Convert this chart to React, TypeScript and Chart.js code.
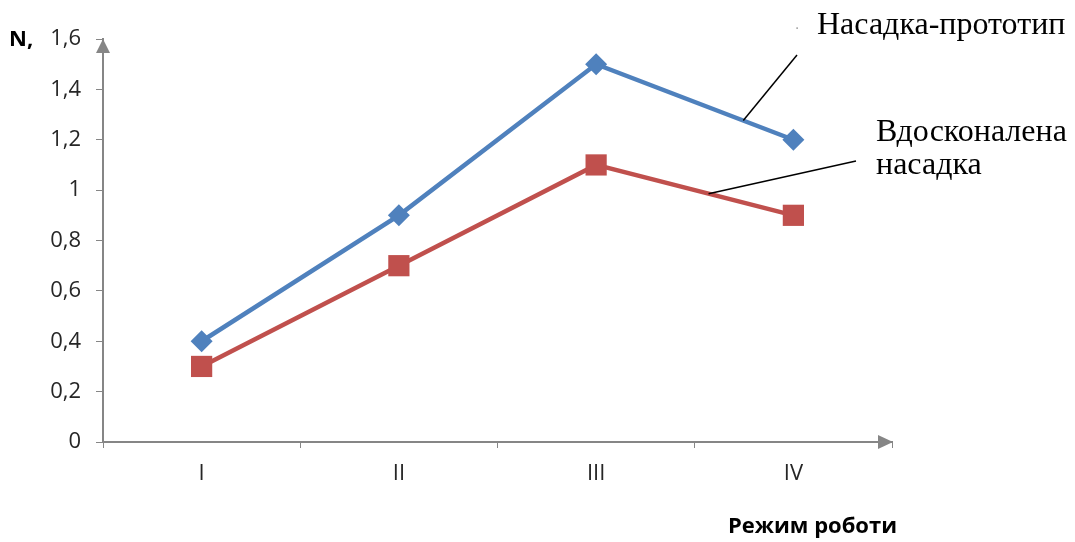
import React, { useEffect, useRef } from "react";
import { Chart, registerables } from "chart.js";

Chart.register(...registerables);

const categories = ["I", "II", "III", "IV"];
const prototypeValues = [0.4, 0.9, 1.5, 1.2];
const improvedValues = [0.3, 0.7, 1.1, 0.9];
const prototypeName = "Насадка-прототип";
const improvedNameLines = ["Вдосконалена", "насадка"];
const yAxisLabel = "N,";
const xAxisLabel = "Режим роботи";

const AXIS = "#868686";
const BLUE = "#4F81BD";
const RED = "#C0504D";
const TICK_FONT = '"Open Sans", "Liberation Sans", sans-serif';

const overlay = {
  id: "overlay",
  afterDraw(chart: any) {
    const ctx = chart.ctx as CanvasRenderingContext2D;
    const x = chart.scales.x;
    const y = chart.scales.y;
    const area = chart.chartArea;
    ctx.save();
    // arrows
    ctx.fillStyle = AXIS;
    ctx.beginPath();
    ctx.moveTo(area.left, area.top);
    ctx.lineTo(area.left - 7, area.top + 14);
    ctx.lineTo(area.left + 7, area.top + 14);
    ctx.closePath();
    ctx.fill();
    ctx.beginPath();
    ctx.moveTo(area.right + 1, area.bottom);
    ctx.lineTo(area.right - 14, area.bottom - 7);
    ctx.lineTo(area.right - 14, area.bottom + 7);
    ctx.closePath();
    ctx.fill();

    // leader lines
    const interp = (vals: number[], i: number, t: number) => {
      const x0 = x.getPixelForValue(i), x1 = x.getPixelForValue(i + 1);
      const y0 = y.getPixelForValue(vals[i]), y1 = y.getPixelForValue(vals[i + 1]);
      return [x0 + (x1 - x0) * t, y0 + (y1 - y0) * t];
    };
    ctx.strokeStyle = "#000";
    ctx.lineWidth = 1.5;
    const b = interp(prototypeValues, 2, 0.746);
    ctx.beginPath();
    ctx.moveTo(b[0], b[1]);
    ctx.lineTo(797, 55);
    ctx.stroke();
    ctx.fillStyle = "#555";
    ctx.fillRect(796.5, 27.5, 1.2, 1.2);
    const r = interp(improvedValues, 2, 0.57);
    ctx.beginPath();
    ctx.moveTo(r[0], r[1]);
    ctx.lineTo(856, 161);
    ctx.stroke();

    // annotation texts
    ctx.fillStyle = "#000";
    ctx.font = '32px "Liberation Serif", "Times New Roman", serif';
    ctx.textAlign = "left";
    ctx.textBaseline = "alphabetic";
    ctx.fillText(prototypeName, 817, 34);
    ctx.fillText(improvedNameLines[0], 876, 141);
    ctx.fillText(improvedNameLines[1], 876, 174);

    // axis titles
    ctx.font = 'bold 22px "Open Sans", "Liberation Sans", sans-serif';
    ctx.textBaseline = "middle";
    ctx.fillText(yAxisLabel, 9, 40);
    ctx.textAlign = "right";
    ctx.fillText(xAxisLabel, 897, 527);
    ctx.restore();
  },
};

export default function App() {
  const ref = useRef<HTMLCanvasElement | null>(null);
  useEffect(() => {
    if (!ref.current) return;
    const chart = new Chart(ref.current, {
      type: "line",
      data: {
        labels: categories,
        datasets: [
          {
            label: prototypeName,
            data: prototypeValues,
            borderColor: BLUE,
            backgroundColor: BLUE,
            borderWidth: 4.5,
            pointStyle: "rectRot",
            pointRadius: 11,
            pointBorderWidth: 0,
            tension: 0,
          },
          {
            label: improvedNameLines.join(" "),
            data: improvedValues,
            borderColor: RED,
            backgroundColor: RED,
            borderWidth: 4.5,
            pointStyle: "rect",
            pointRadius: 15,
            pointBorderWidth: 0,
            tension: 0,
          },
        ],
      },
      options: {
        animation: false,
        responsive: false,
        devicePixelRatio: 1,
        layout: { padding: { top: 39, right: 183, left: 0, bottom: 0 } },
        plugins: { legend: { display: false }, tooltip: { enabled: false } },
        scales: {
          x: {
            offset: true,
            grid: { offset: true, drawOnChartArea: false, tickLength: 6, color: AXIS, lineWidth: 1 },
            border: { color: AXIS, width: 2 },
            ticks: {
              padding: 13,
              color: "#262626",
              font: { family: TICK_FONT, size: 22 },
            },
            afterFit: (s: any) => { s.height = 100; },
          },
          y: {
            min: 0,
            max: 1.6,
            ticks: {
              stepSize: 0.2,
              padding: 15,
              color: "#262626",
              font: { family: TICK_FONT, size: 22 },
              callback: (v: any) => Number(Number(v).toFixed(1)).toString().replace(".", ","),
            },
            grid: { drawOnChartArea: false, tickLength: 7, color: AXIS, lineWidth: 1 },
            border: { color: AXIS, width: 2 },
            afterFit: (s: any) => { s.width = 103; },
          },
        },
      },
      plugins: [overlay],
    });
    return () => chart.destroy();
  }, []);
  return (
    <canvas
      ref={ref}
      width={1075}
      height={542}
      style={{ position: "fixed", left: 0, top: 0, width: 1075, height: 542 }}
    />
  );
}
